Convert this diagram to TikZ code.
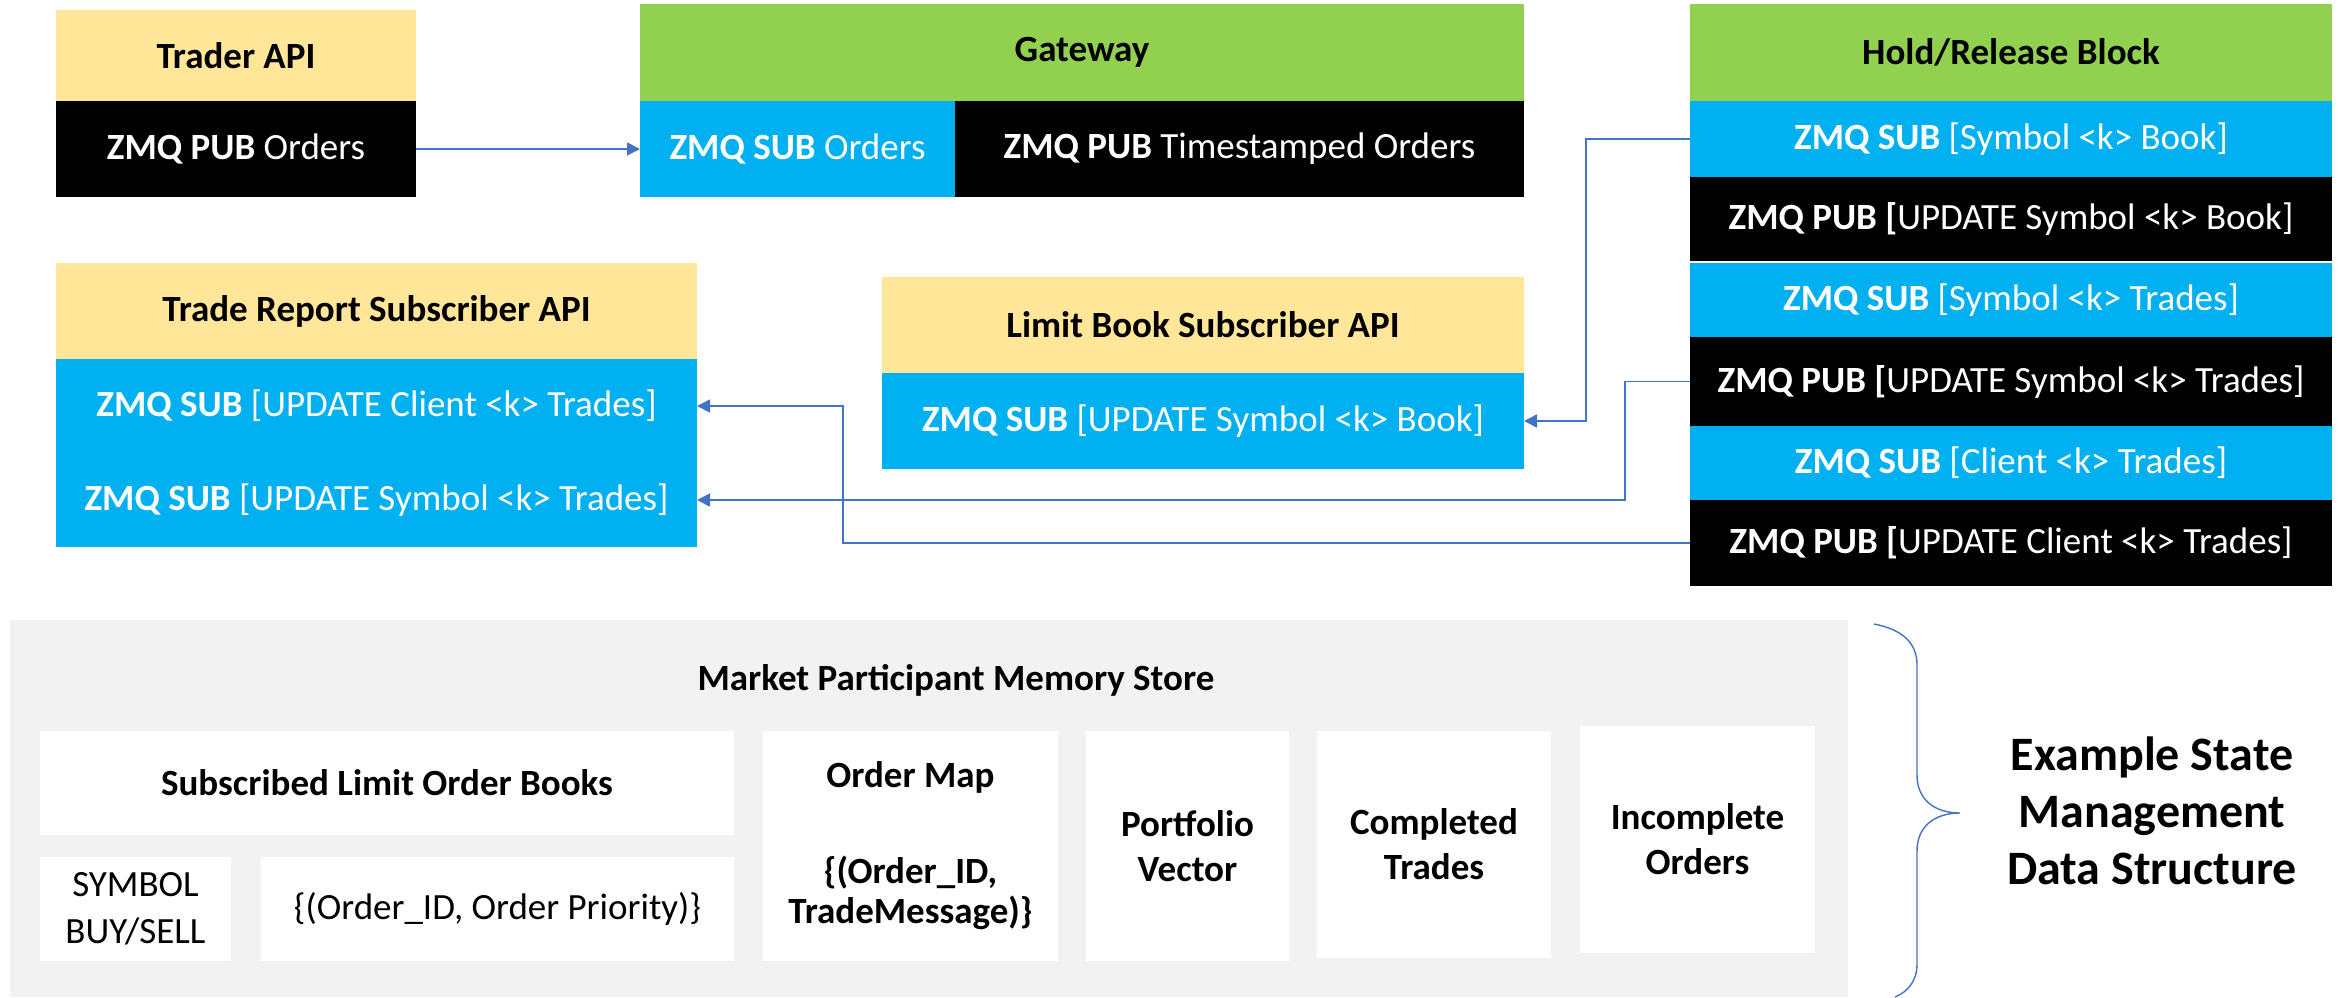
\documentclass[tikz,border=0pt]{standalone}
\usepackage{fontspec}
\setmainfont{Carlito}
\usetikzlibrary{arrows.meta}
\definecolor{hdrY}{HTML}{FFE699}
\definecolor{hdrG}{HTML}{92D050}
\definecolor{zblue}{HTML}{00B0F0}
\definecolor{lineblue}{HTML}{4472C4}
\definecolor{panel}{HTML}{F2F2F2}
\begin{document}
\begin{tikzpicture}[x=0.5pt,y=-0.5pt,
  box/.style={rectangle, inner sep=0pt, outer sep=0pt, align=center, font=\fontsize{18.5}{22}\selectfont},
  yhead/.style={box, fill=hdrY, font=\fontsize{18.5}{22}\selectfont\bfseries},
  ghead/.style={box, fill=hdrG, font=\fontsize{18.5}{22}\selectfont\bfseries},
  subcell/.style={box, fill=zblue, text=white},
  pubcell/.style={box, fill=black, text=white},
  whitebox/.style={box, fill=white},
  conn/.style={draw=lineblue, line width=0.8pt},
  arr/.style={conn, -{Triangle[width=6.5pt,length=6.5pt]}},
  bracestyle/.style={draw=lineblue, line width=0.7pt}
]
\useasboundingbox (0,0) rectangle (2349,997);

% Trader API
\node[yhead, minimum width=180pt, minimum height=45.5pt] (traderH) at (236,55.5) {Trader API};
\node[pubcell, minimum width=180pt, minimum height=48pt] (traderP) at (236,149) {\textbf{ZMQ PUB} Orders};

% Gateway
\node[ghead, minimum width=442pt, minimum height=48.5pt] (gwH) at (1082,52.5) {Gateway};
\node[subcell, minimum width=157.5pt, minimum height=48pt] (gwS) at (797.5,149) {\textbf{ZMQ SUB} Orders};
\node[pubcell, minimum width=284.5pt, minimum height=48pt] (gwP) at (1239.5,149) {\textbf{ZMQ PUB} Timestamped Orders};

% Hold/Release Block
\node[ghead, minimum width=321pt, minimum height=48.5pt] (hrH) at (2011,52.5) {Hold/Release Block};
\node[subcell, minimum width=321pt, minimum height=38pt] (hr1) at (2011,139) {\textbf{ZMQ SUB} [Symbol <k> Book]};
\node[pubcell, minimum width=321pt, minimum height=42pt] (hr2) at (2011,219) {\textbf{ZMQ PUB [}UPDATE Symbol <k> Book]};
\node[subcell, minimum width=321pt, minimum height=37pt] (hr3) at (2011,300) {\textbf{ZMQ SUB} [Symbol <k> Trades]};
\node[pubcell, minimum width=321pt, minimum height=44.5pt] (hr4) at (2011,381.5) {\textbf{ZMQ PUB [}UPDATE Symbol <k> Trades]};
\node[subcell, minimum width=321pt, minimum height=37pt] (hr5) at (2011,463) {\textbf{ZMQ SUB} [Client <k> Trades]};
\node[pubcell, minimum width=321pt, minimum height=43pt] (hr6) at (2011,543) {\textbf{ZMQ PUB [}UPDATE Client <k> Trades]};

% Trade Report Subscriber API
\node[yhead, minimum width=320.5pt, minimum height=48pt] (trH) at (376.5,311) {Trade Report Subscriber API};
\node[subcell, minimum width=320.5pt, minimum height=47pt] (trB1) at (376.5,406) {\textbf{ZMQ SUB} [UPDATE Client <k> Trades]};
\node[subcell, minimum width=320.5pt, minimum height=47pt] (trB2) at (376.5,500) {\textbf{ZMQ SUB} [UPDATE Symbol <k> Trades]};

% Limit Book Subscriber API
\node[yhead, minimum width=321pt, minimum height=48pt] (lbH) at (1203,325) {Limit Book Subscriber API};
\node[subcell, minimum width=321pt, minimum height=48pt] (lbB) at (1203,421) {\textbf{ZMQ SUB} [UPDATE Symbol <k> Book]};

% connectors
\coordinate (k1) at (1586,300);
\coordinate (k2) at (1625,440);
\coordinate (k3) at (843,480);
\draw[arr] (traderP.east) -- (gwS.west);
\draw[arr] (hr1.west) -| (k1) |- (lbB.east);
\draw[arr] (hr4.west) -| (k2) |- (trB2.east);
\draw[arr] (hr6.west) -| (k3) |- (trB1.east);

% Memory store panel
\node[box, fill=panel, minimum width=919pt, minimum height=188.5pt] (panel) at (929,808.5) {};
\node[box, font=\fontsize{18.5}{22}\selectfont\bfseries] (mtitle) at (956,680) {Market Participant Memory Store};
\node[whitebox, minimum width=347pt, minimum height=52pt, font=\fontsize{18.5}{22}\selectfont\bfseries] (slob) at (387,783) {Subscribed Limit Order Books};
\node[whitebox, minimum width=95.5pt, minimum height=52pt, font=\fontsize{18.5}{23.5}\selectfont] (sym) at (135.5,909) {SYMBOL\\BUY/SELL};
\node[whitebox, minimum width=236.5pt, minimum height=52pt] (prio) at (497.5,909) {\{(Order\_ID, Order Priority)\}};
\node[whitebox, minimum width=147.5pt, minimum height=115pt, font=\fontsize{18.5}{20}\selectfont\bfseries] (omap) at (910.5,846) {Order Map\\[28pt]\{(Order\_ID,\\TradeMessage)\}};
\node[whitebox, minimum width=101.5pt, minimum height=115pt, font=\fontsize{18.5}{22.5}\selectfont\bfseries] (port) at (1187.5,846) {Portfolio\\Vector};
\node[whitebox, minimum width=117pt, minimum height=113.5pt, font=\fontsize{18.5}{22.5}\selectfont\bfseries] (comp) at (1434,844.5) {Completed\\Trades};
\node[whitebox, minimum width=117.5pt, minimum height=113.5pt, font=\fontsize{18.5}{22.5}\selectfont\bfseries] (inc) at (1697.5,839.5) {Incomplete\\Orders};

% brace
\coordinate (bt) at (1874,624);
\coordinate (btip) at (1960,813);
\coordinate (bb) at (1895,997);
\draw[bracestyle] (bt) .. controls (1905,630) and (1917,645) .. (1917,665)
  -- (1917,775) .. controls (1917,800) and (1935,813) .. (btip)
  .. controls (1935,813) and (1917,826) .. (1917,851)
  -- (1917,965) .. controls (1917,980) and (1908,992) .. (bb);
\node[box, font=\fontsize{24}{28.5}\selectfont\bfseries] (estate) at (2152,811) {Example State\\Management\\Data Structure};
\end{tikzpicture}
\end{document}
